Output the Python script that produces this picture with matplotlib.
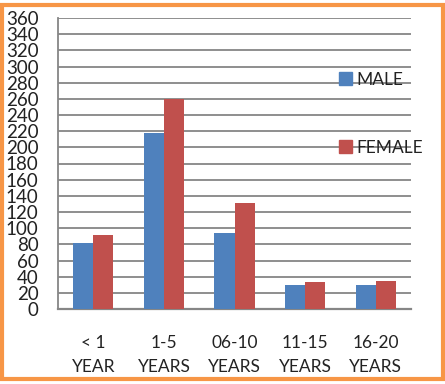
import matplotlib
matplotlib.use("Agg")
import matplotlib.pyplot as plt
from matplotlib.patches import Rectangle, Patch
import numpy as np

categories = ["< 1\nYEAR", "1-5\nYEARS", "06-10\nYEARS", "11-15\nYEARS", "16-20\nYEARS"]
male = [82, 218, 94, 30, 30]
female = [92, 260, 131, 34, 35]
yticks = list(range(0, 361, 20))

BLUE = "#4F81BD"
RED = "#C0504D"
ORANGE = "#F79646"

plt.rcParams['font.family'] = ['Lato', 'DejaVu Sans']

W, H = 445, 384
fig = plt.figure(figsize=(W / 100, H / 100), dpi=100)
ax = fig.add_axes([58 / W, 1 - 309 / H, (411 - 58) / W, (309 - 18) / H])

x = np.arange(len(categories))
bw = 0.285
ax.bar(x - bw / 2, male, width=bw, color=BLUE, zorder=3, label="MALE")
ax.bar(x + bw / 2, female, width=bw, color=RED, zorder=3, label="FEMALE")

ax.set_xlim(-0.5, len(categories) - 0.5)
ax.set_ylim(0, 360)
ax.set_yticks(yticks)
ax.set_yticklabels([str(v) for v in yticks], fontsize=13.5, color="#222222")
ax.set_xticks(x)
ax.set_xticklabels(categories, fontsize=12.5, color="#222222", linespacing=1.55)
ax.tick_params(axis='both', length=0)
ax.tick_params(axis='y', pad=14)
ax.tick_params(axis='x', pad=19)

ax.grid(axis='y', color="#868686", linewidth=1.3, zorder=0)
for s in ["top", "right"]:
    ax.spines[s].set_visible(False)
ax.spines["left"].set_color("#868686")
ax.spines["left"].set_linewidth(1.3)
ax.spines["bottom"].set_color("#868686")
ax.spines["bottom"].set_linewidth(1.6)

handles = [Patch(color=BLUE), Patch(color=RED)]
leg = ax.legend(handles, ["MALE", "FEMALE"], loc="upper left",
                bbox_to_anchor=(0.775, 0.84), frameon=False, fontsize=12.5,
                handlelength=0.75, handleheight=0.75, handletextpad=0.3,
                labelspacing=3.0, borderaxespad=0)
for t in leg.get_texts():
    t.set_color("#222222")

fig.patches.append(Rectangle((2 / W, 1 - 378.5 / H), 441 / W, 373.5 / H,
                             transform=fig.transFigure, fill=False,
                             edgecolor=ORANGE, linewidth=3.0))

fig.savefig("out.png", dpi=100)
